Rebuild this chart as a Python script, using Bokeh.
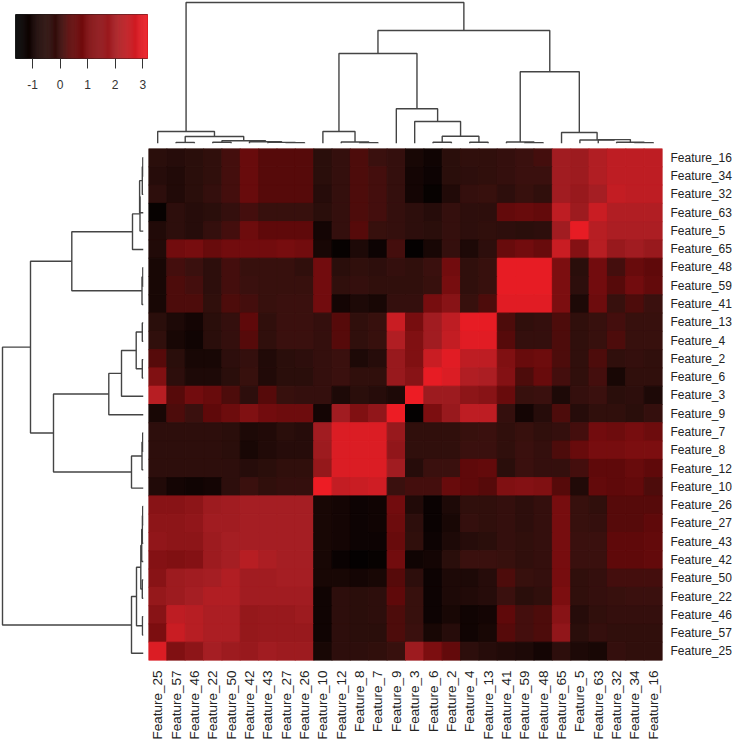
import math
import numpy as np
from bokeh.plotting import figure
from bokeh.layouts import column, row
from bokeh.models import Range1d, FactorRange, LinearColorMapper, FixedTicker, ColumnDataSource
from bokeh.embed import file_html
from bokeh.resources import INLINE

n = ["25","57","46","22","50","42","43","27","26","10","12","8","7","9","3","6","2","4","13","41","59","48","65","5","63","32","34","16"]
col_labels = ["Feature_" + k for k in n]
row_labels = col_labels[::-1]

r16 = [-0.5,-0.6,-0.5,-0.3,0.1,0.6,0.3,0.3,0.3,-0.5,-0.2,0.2,0.0,-0.2,-0.9,-1.1,-0.5,-0.3,-0.3,-0.2,0.0,0.1,1.9,1.8,2.2,2.4,2.4,2.4]
r34 = [-0.6,-0.7,-0.5,-0.3,0.1,0.6,0.3,0.3,0.3,-0.5,-0.2,0.2,0.1,-0.2,-1.0,-1.2,-0.5,-0.4,-0.3,-0.2,0.0,0.0,1.9,1.8,2.2,2.4,2.4,2.4]
r32 = [-0.4,-0.7,-0.5,-0.2,0.1,0.6,0.3,0.3,0.3,-0.6,-0.2,0.2,0.1,-0.2,-1.0,-1.4,-0.7,-0.2,-0.1,-0.4,-0.1,-0.3,1.9,1.7,2.0,2.5,2.4,2.4]
r63 = [-1.4,-0.4,-0.6,-0.5,-0.2,0.1,-0.1,-0.1,-0.1,-0.5,-0.2,0.2,0.1,-0.2,-0.4,-0.6,-0.2,-0.4,-0.4,0.5,0.6,0.5,2.4,1.8,2.6,2.2,2.2,2.2]
r5 = [-0.7,-0.4,-0.6,-0.2,0.1,0.7,0.4,0.4,0.4,-1.0,-0.2,0.3,-0.1,-0.2,-0.4,-0.5,-0.2,-0.4,-0.3,-0.4,-0.5,-0.4,1.9,3.1,2.3,2.1,2.1,2.1]
r65 = [-0.7,0.8,0.9,0.6,0.8,0.8,0.8,0.9,0.8,-0.9,-1.4,-0.8,-1.2,0.1,-1.5,-0.9,-0.2,-0.8,-0.4,0.6,0.8,0.6,2.6,1.2,2.3,1.7,1.9,1.7]
r48 = [-0.9,0.1,0.0,-0.4,0.1,-0.1,-0.1,-0.1,-0.3,0.8,-0.5,-0.3,-0.4,-0.2,-0.3,0.0,0.8,-0.3,-0.1,3.1,3.1,3.1,1.0,-0.5,0.8,0.1,0.6,0.4]
r59 = [-0.9,0.2,0.1,-0.4,0.1,0.0,-0.1,-0.1,-0.1,0.8,-0.3,-0.2,-0.3,-0.3,-0.3,-0.1,0.9,-0.3,-0.1,3.1,3.1,3.1,1.0,-0.4,0.8,0.3,0.8,0.5]
r41 = [-0.9,0.2,0.2,-0.3,0.2,0.1,-0.1,0.0,0.0,0.8,-1.0,-0.8,-0.9,-0.2,-0.2,0.9,1.3,-0.1,0.2,3.0,3.0,3.0,1.0,-0.8,0.7,-0.1,0.2,0.0]
r13 = [-0.5,-0.8,-1.0,-0.5,-0.2,0.4,-0.3,0.0,0.0,-0.2,0.3,-0.3,-0.1,2.6,0.9,1.9,2.4,3.1,3.1,0.2,-0.3,-0.2,0.2,-0.3,-0.1,0.1,-0.1,-0.1]
r4 = [-0.3,-0.9,-1.1,-0.5,-0.2,0.3,-0.3,0.0,0.0,-0.2,0.3,-0.3,-0.1,2.2,1.1,1.9,2.5,3.0,3.0,0.3,-0.2,-0.2,0.2,-0.3,-0.1,0.2,-0.1,-0.1]
r2 = [0.3,-0.5,-0.9,-0.9,-0.4,-0.2,-0.7,-0.5,-0.4,-0.2,0.0,-0.8,-0.6,1.7,1.1,2.6,3.0,2.4,2.4,1.1,0.6,0.7,0.2,-0.3,0.2,-0.3,-0.2,-0.3]
r6 = [1.1,-0.4,-0.8,-0.8,-0.5,-0.1,-0.7,-0.5,-0.5,-0.2,0.0,-0.3,-0.3,1.7,1.3,3.1,2.9,2.2,2.1,1.2,0.2,0.6,0.1,-0.3,0.1,-0.9,-0.3,-0.3]
r3 = [2.3,0.3,0.8,0.6,0.2,-0.4,0.3,-0.1,-0.2,-0.2,-0.8,-0.5,-0.6,-0.8,3.2,1.8,1.8,1.4,1.3,0.6,-0.1,0.0,-0.8,-0.2,0.0,-0.5,-0.4,-0.8]
r9 = [-0.9,0.2,0.0,0.4,0.7,1.1,0.8,0.7,0.7,-1.0,1.9,1.1,1.5,3.2,-1.5,1.0,1.7,2.4,2.4,-0.2,-1.0,-0.6,0.2,-0.6,-0.3,-0.3,-0.5,-0.2]
r7 = [-0.4,-0.4,-0.4,-0.4,-0.5,-0.8,-0.7,-0.5,-0.6,1.9,2.9,2.9,2.9,1.7,-0.3,-0.3,-0.3,-0.1,0.0,-0.3,-0.1,-0.3,-0.2,0.1,0.8,0.7,0.9,0.7]
r8 = [-0.4,-0.4,-0.4,-0.4,-0.5,-0.9,-0.7,-0.6,-0.6,1.8,2.9,2.9,2.9,1.5,-0.3,-0.3,-0.3,0.0,0.0,-0.3,0.0,-0.2,0.2,0.6,0.9,0.9,1.0,1.0]
r12 = [-0.4,-0.4,-0.4,-0.4,-0.4,-0.6,-0.5,-0.3,-0.3,1.6,2.9,2.9,2.9,1.9,-0.6,0.0,0.0,0.4,0.5,-0.5,0.0,-0.2,-0.2,0.1,0.4,0.4,0.6,0.4]
r10 = [-0.7,-1.0,-1.1,-1.0,-0.4,0.0,-0.3,-0.2,-0.2,3.3,2.5,2.6,2.7,0.0,0.1,0.1,0.6,0.4,0.3,1.1,1.2,1.1,0.3,-0.7,0.5,0.4,0.5,0.2]
r26 = [1.3,1.3,1.4,1.8,1.9,2.0,2.0,2.0,2.0,-0.9,-1.0,-1.2,-1.1,0.8,-0.7,-1.3,-0.8,-0.3,-0.3,-0.2,-0.4,-0.2,0.9,-0.1,-0.3,0.3,0.3,0.3]
r27 = [1.4,1.4,1.5,1.9,1.9,2.0,2.0,2.0,2.0,-0.9,-1.0,-1.2,-1.1,0.7,-0.4,-1.3,-0.9,-0.2,-0.3,-0.2,-0.4,-0.2,0.9,-0.1,-0.2,0.3,0.3,0.4]
r43 = [1.5,1.4,1.4,1.8,2.0,2.0,2.0,2.0,2.0,-0.9,-1.0,-1.2,-1.2,0.6,-0.3,-1.2,-0.8,-0.6,-0.5,-0.2,-0.3,-0.2,0.9,0.0,0.0,0.4,0.4,0.5]
r42 = [1.2,1.1,1.2,1.8,2.0,2.3,2.1,2.0,2.0,-0.9,-1.3,-1.5,-1.4,0.8,-1.1,-1.0,-0.5,0.0,0.0,-0.1,-0.3,-0.2,0.9,0.0,0.0,0.4,0.4,0.5]
r50 = [1.3,1.8,1.9,2.0,2.2,1.9,1.9,2.0,2.0,-0.9,-0.9,-1.0,-0.9,0.3,-0.4,-1.2,-0.8,-0.8,-0.6,0.2,-0.1,-0.2,0.9,-0.3,-0.2,0.1,0.1,0.1]
r22 = [1.6,1.8,2.0,2.2,2.2,1.9,1.9,1.9,1.9,-1.1,-0.4,-0.5,-0.4,0.4,-0.1,-1.2,-0.8,-0.7,-0.6,0.0,-0.5,-0.3,1.0,-0.3,-0.2,-0.1,0.0,0.0]
r46 = [1.3,2.4,2.3,2.1,2.1,1.6,1.7,1.7,1.8,-1.1,-0.4,-0.5,-0.4,0.2,-0.1,-1.2,-0.9,-1.1,-1.0,0.4,0.1,0.2,1.3,-0.6,-0.3,-0.2,-0.2,-0.2]
r57 = [1.0,2.6,2.3,2.1,2.1,1.6,1.7,1.7,1.7,-1.1,-0.4,-0.5,-0.5,0.2,0.0,-0.9,-0.6,-1.1,-0.9,0.3,0.1,0.2,1.5,-0.5,-0.2,-0.3,-0.3,-0.3]
r25 = [2.9,1.1,1.4,2.0,1.8,1.7,1.9,1.8,1.8,-0.9,-0.4,-0.4,-0.3,-0.1,1.8,1.0,0.5,-0.4,-0.6,-0.7,-0.8,-1.0,-0.4,-0.8,-0.9,-0.2,-0.3,-0.3]
matrix_rows = [r16,r34,r32,r63,r5,r65,r48,r59,r41,r13,r4,r2,r6,r3,r9,r7,r8,r12,r10,r26,r27,r43,r42,r50,r22,r46,r57,r25]

# Merge tree: (merge height, left child, right child); leaves are positions in the column order
tree_left = (12, "25", (7, (1, "57", "46"), (2.7, (1.2, "22", "50"), (1.8, "42", (1.1, "43", (0.8, "27", "26"))))))
tree_mid_a = (12, "10", (1.5, "12", (0.8, "8", "7")))
tree_mid_b = (34.7, "9", (22, "3", (7.3, (1.2, "6", "2"), (1.2, "4", "13"))))
tree_right_a = (1.5, "41", (0.7, "59", "48"))
tree_right_b = (11, "65", (3.5, "5", (3.9, "63", (1.2, "32", (0.7, "34", "16")))))
tree = (141, tree_left, (113, (90, tree_mid_a, tree_mid_b), (71.7, tree_right_a, tree_right_b)))

legend_ticks = [-1, 0, 1, 2, 3]
color_low, color_high = -1.62, 3.21
stop_values = [-1.62, -1.0, -0.5, 0.0, 0.35, 1.0, 2.0, 3.21]
stop_colors = ["#000000", "#140504", "#2a0e0b", "#3a100e", "#5c0909", "#7c0e10", "#a51e23", "#ed1c24"]

INK = "#444444"
FONT = "Liberation Sans"

def rgb(h):
    return [int(h[i:i+2], 16) for i in (1, 3, 5)]

stops = np.array([rgb(c) for c in stop_colors], dtype=float)
grid = np.linspace(color_low, color_high, 256)
ramp = ["#%02x%02x%02x" % tuple(int(round(np.interp(g, stop_values, stops[:, k]))) for k in range(3)) for g in grid]
mapper = LinearColorMapper(palette=ramp, low=color_low, high=color_high)

leaf_pos = {k: i + 0.5 for i, k in enumerate(n)}

def segments(node, out):
    """Return (position, height) of a node; append its bracket to out."""
    if isinstance(node, str):
        return leaf_pos[node], 0.0
    h, a, b = node
    pa, ha = segments(a, out)
    pb, hb = segments(b, out)
    out.append(([pa, pa, pb, pb], [ha, h, h, hb]))
    return (pa + pb) / 2, h

brackets = []
segments(tree, brackets)
bx = [s[0] for s in brackets]
bh = [s[1] for s in brackets]

def blank(**kw):
    p = figure(output_backend="svg", toolbar_location=None, x_axis_location=None, y_axis_location=None,
               frame_align=False, **kw)
    p.grid.visible = False
    p.outline_line_color = None
    p.background_fill_color = None
    p.border_fill_color = None
    return p

# colour key
key = figure(output_backend="svg", toolbar_location=None, width=148, height=148, y_axis_location=None,
             x_range=Range1d(color_low, color_high), y_range=Range1d(0, 1), frame_align=False,
             min_border_left=15, min_border_right=0, min_border_top=14, min_border_bottom=90)
key.grid.visible = False
key.outline_line_color = "#333333"
key.outline_line_width = 1
edges = np.linspace(color_low, color_high, 129)
mids = (edges[:-1] + edges[1:]) / 2
ks = ColumnDataSource(dict(l=edges[:-1], r=edges[1:], v=mids))
key.quad(left="l", right="r", bottom=0, top=1, source=ks,
         fill_color={"field": "v", "transform": mapper}, line_color={"field": "v", "transform": mapper}, line_width=0.5)
ax = key.xaxis[0]
ax.ticker = FixedTicker(ticks=legend_ticks)
ax.axis_line_color = None
ax.major_tick_line_color = "#333333"
ax.major_tick_line_width = 1
ax.major_tick_out = 10
ax.major_tick_in = 0
ax.minor_tick_line_color = None
ax.major_label_standoff = 11
ax.major_label_text_font = FONT
ax.major_label_text_font_size = "12px"
ax.major_label_text_color = "#333333"
ax.major_label_overrides = {t: str(t) for t in legend_ticks}

# top dendrogram
top = blank(width=597, height=148, x_range=Range1d(0, 28), y_range=Range1d(0, 143),
            min_border_left=0, min_border_right=83, min_border_top=0, min_border_bottom=5)
top.multi_line(bx, bh, line_color=INK, line_width=1.4)

# left dendrogram
left = blank(width=148, height=594, x_range=Range1d(143, 0), y_range=Range1d(28, 0),
             min_border_left=0, min_border_right=5, min_border_top=0, min_border_bottom=80)
left.multi_line(bh, [[28 - v for v in s] for s in bx], line_color=INK, line_width=1.4)

# heatmap
hx, hy, hv = [], [], []
for rname, vals in zip(row_labels, matrix_rows):
    for cname, v in zip(col_labels, vals):
        hx.append(cname); hy.append(rname); hv.append(v)
src = ColumnDataSource(dict(x=hx, y=hy, v=hv))
heat = figure(output_backend="svg", toolbar_location=None, width=597, height=594, y_axis_location="right",
              x_range=FactorRange(factors=col_labels, range_padding=0),
              y_range=FactorRange(factors=row_labels[::-1], range_padding=0), frame_align=False,
              min_border_left=0, min_border_right=83, min_border_top=0, min_border_bottom=80)
heat.grid.visible = False
heat.outline_line_color = None
heat.rect("x", "y", 1, 1, source=src, fill_color={"field": "v", "transform": mapper},
          line_color={"field": "v", "transform": mapper}, line_width=1)
for a in (heat.xaxis[0], heat.yaxis[0]):
    a.axis_line_color = None
    a.major_tick_line_color = None
    a.minor_tick_line_color = None
    a.major_tick_out = 0
    a.major_tick_in = 0
    a.major_label_text_font = FONT
    a.major_label_text_color = "#222222"
heat.yaxis[0].major_label_text_font_size = "12px"
heat.yaxis[0].major_label_standoff = 8
heat.xaxis[0].major_label_text_font_size = "13.5px"
heat.xaxis[0].major_label_orientation = math.pi / 2
heat.xaxis[0].major_label_standoff = 10

page = column(row(key, top, spacing=0), row(left, heat, spacing=0), spacing=0)
open("out.html", "w").write(file_html(page, INLINE))
